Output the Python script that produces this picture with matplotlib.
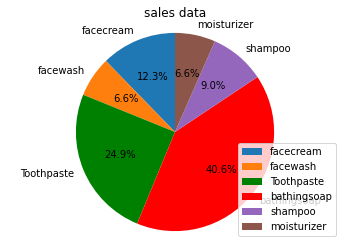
import matplotlib
matplotlib.use("Agg")
import matplotlib.pyplot as plt

labels = ['facecream', 'facewash', 'Toothpaste', 'bathingsoap', 'shampoo', 'moisturizer']
sales = [34480, 18515, 69910, 114000, 25410, 18515]
colors = ['#1f77b4', '#ff7f0e', 'green', 'red', '#9467bd', '#8c564b']

W, H = 349, 247
fig = plt.figure(figsize=(W/72, H/72), dpi=72)
left, right, top, bottom = 9, 341, 23, 241
ax = fig.add_axes([left/W, (H-bottom)/H, (right-left)/W, (bottom-top)/H])
ax.pie(sales, labels=labels, colors=colors, autopct='%1.1f%%', startangle=90)
ax.axis('equal')
ax.set_title('sales data')
ax.legend(loc='lower right')
fig.savefig('out.png', dpi=72)
